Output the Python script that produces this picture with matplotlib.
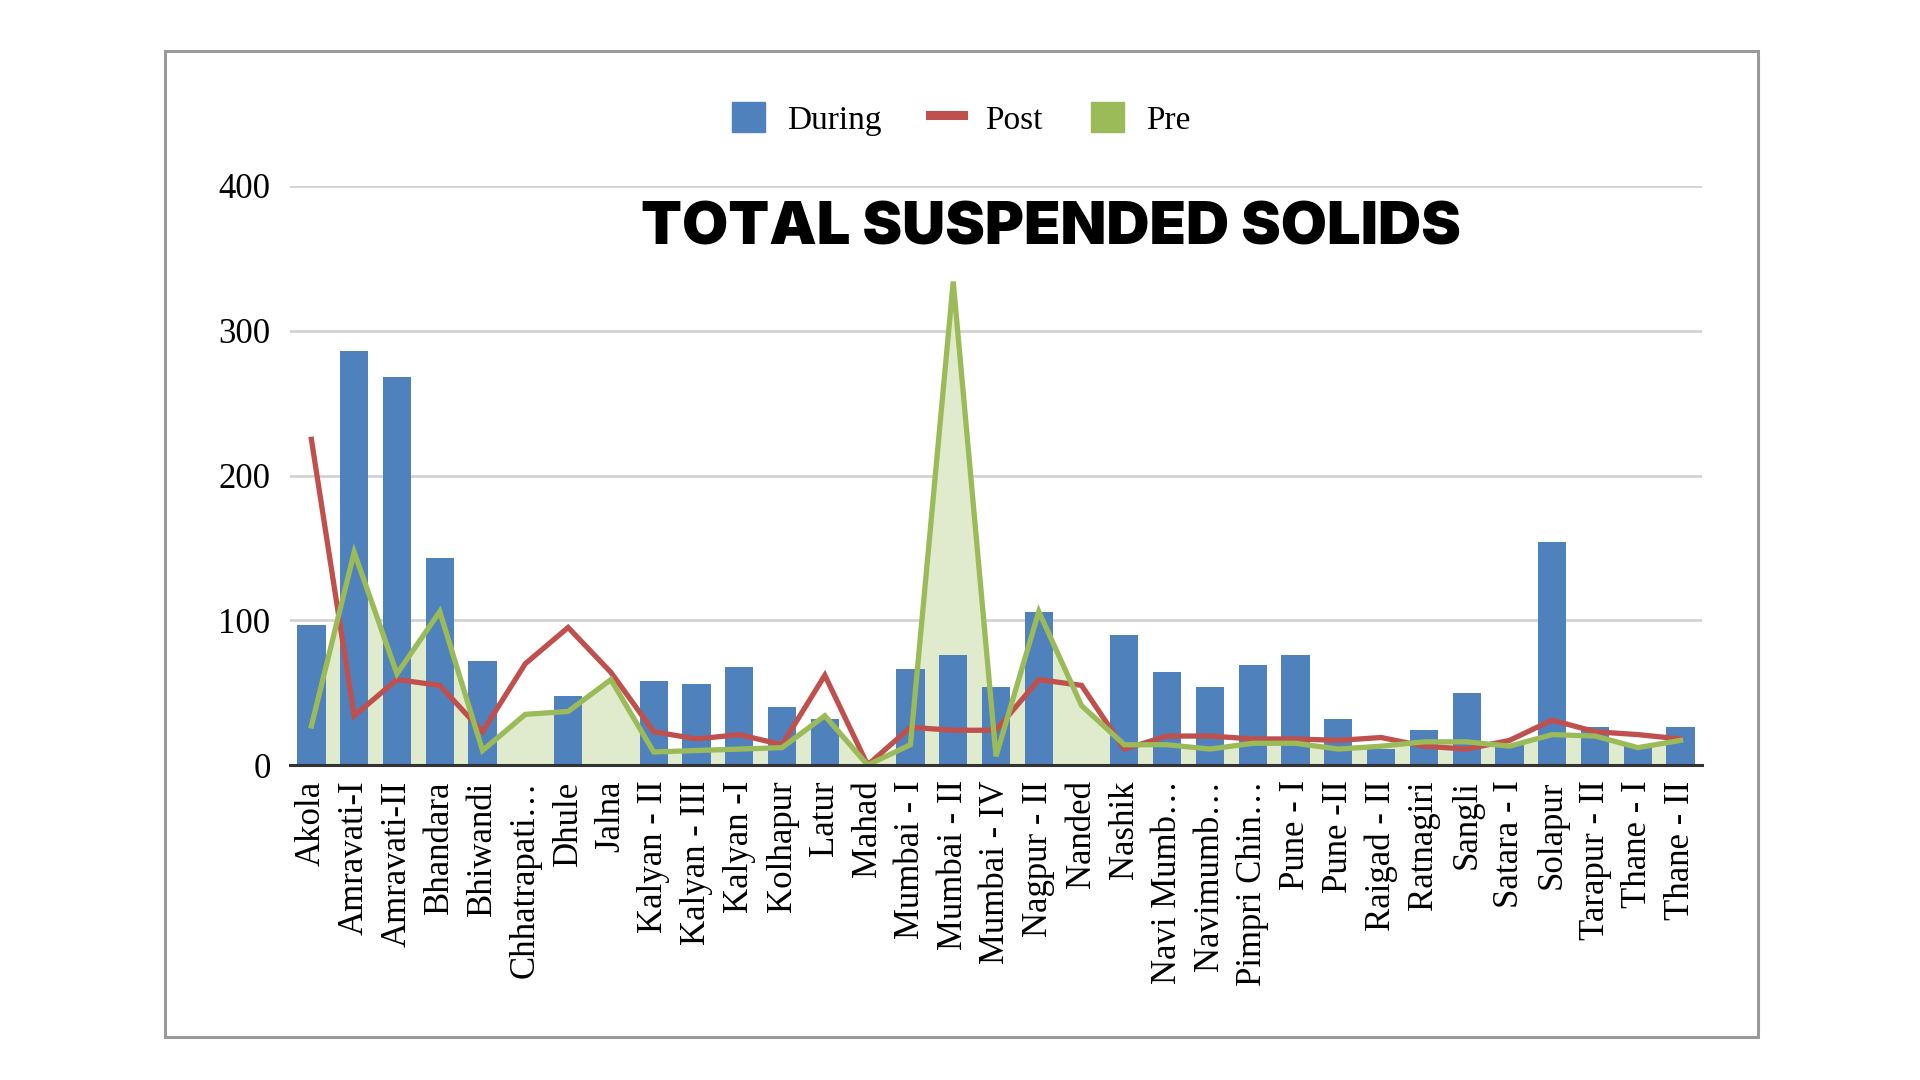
import matplotlib
matplotlib.use("Agg")
import matplotlib.pyplot as plt
from matplotlib.patches import Patch, Rectangle
from matplotlib.lines import Line2D
import numpy as np

categories = ["Akola", "Amravati-I", "Amravati-II", "Bhandara", "Bhiwandi", "Chhatrapati…",
              "Dhule", "Jalna", "Kalyan - II", "Kalyan - III", "Kalyan -I", "Kolhapur", "Latur",
              "Mahad", "Mumbai - I", "Mumbai - II", "Mumbai - IV", "Nagpur - II", "Nanded",
              "Nashik", "Navi Mumb…", "Navimumb…", "Pimpri Chin…", "Pune - I", "Pune -II",
              "Raigad - II", "Ratnagiri", "Sangli", "Satara - I", "Solapur", "Tarapur - II",
              "Thane - I", "Thane - II"]

during = [97, 286, 268, 143, 72, 0, 48, 0, 58, 56, 68, 40, 32, 0, 66, 76, 54, 106, 0,
          90, 64, 54, 69, 76, 32, 11, 24, 50, 14, 154, 26, 14, 26]
post = [225, 34, 59, 55, 23, 70, 95, 64, 23, 18, 21, 14, 62, 0, 26, 24, 24, 59, 55,
        11, 20, 20, 18, 18, 17, 19, 13, 11, 17, 31, 23, 21, 18]
pre = [27, 147, 63, 106, 10, 35, 37, 59, 9, 10, 11, 12, 34, 0, 14, 334, 6, 106, 41,
       14, 14, 11, 15, 15, 11, 13, 16, 16, 13, 21, 20, 12, 17]

y_ticks = [0, 100, 200, 300, 400]

BLUE = "#4F81BD"
RED = "#C0504D"
GREEN = "#9BBB59"
FILL = "#E0EACC"

serif = ["Liberation Serif", "DejaVu Serif"]

fig = plt.figure(figsize=(19.2, 10.8), dpi=100)
fig.patch.set_facecolor("white")

# outer border
fig.add_artist(Rectangle((165 / 1920, 1 - 1037 / 1080), (1758 - 165) / 1920, (1037 - 51) / 1080,
                         transform=fig.transFigure, fill=False, edgecolor="#9a9a9a", linewidth=2.2))

ax = fig.add_axes([290 / 1920, 1 - 765 / 1080, (1702 - 290) / 1920, (765 - 186) / 1080])
x = np.arange(len(categories))

ax.fill_between(x, 0, pre, color=FILL, zorder=1, linewidth=0)
ax.bar(x, during, width=0.66, color=BLUE, zorder=2, label="During")
ax.plot(x, post, color=RED, linewidth=3.8, zorder=3, solid_joinstyle="miter")
ax.plot(x, pre, color=GREEN, linewidth=3.8, zorder=4, solid_joinstyle="miter")

ax.set_xlim(-0.5, len(categories) - 0.5)
ax.set_ylim(0, 400)
ax.set_yticks(y_ticks)
ax.set_yticklabels([str(v) for v in y_ticks], fontfamily=serif, fontsize=25)
ax.set_xticks(x)
ax.set_xticklabels(categories, rotation=90, fontfamily=serif, fontsize=25)
ax.tick_params(axis="both", length=0, pad=14)
ax.tick_params(axis="x", pad=11)

ax.grid(axis="y", color="#d3d3d3", linewidth=2, zorder=0)
ax.set_axisbelow(True)
for s in ["top", "right", "left"]:
    ax.spines[s].set_visible(False)
ax.spines["bottom"].set_color("#333333")
ax.spines["bottom"].set_linewidth(2.2)
ax.spines["bottom"].set_zorder(5)

handles = [Patch(facecolor=BLUE, edgecolor=BLUE),
           Line2D([0], [0], color=RED, linewidth=6.5),
           Patch(facecolor=GREEN, edgecolor=GREEN)]
fig.legend(handles, ["During", "Post", "Pre"], loc="center", bbox_to_anchor=(961 / 1920, 1 - 119 / 1080),
           ncol=3, frameon=False, prop={"family": serif, "size": 24},
           handlelength=1.0, handleheight=1.0, columnspacing=1.45, handletextpad=0.65)

fig.text(1051 / 1920, 1 - 229 / 1080, "TOTAL SUSPENDED SOLIDS", ha="center", va="center",
         fontsize=43, fontweight="black", family=["Inter", "DejaVu Sans"], color="black")

fig.savefig("out.png", dpi=100, facecolor="white")
